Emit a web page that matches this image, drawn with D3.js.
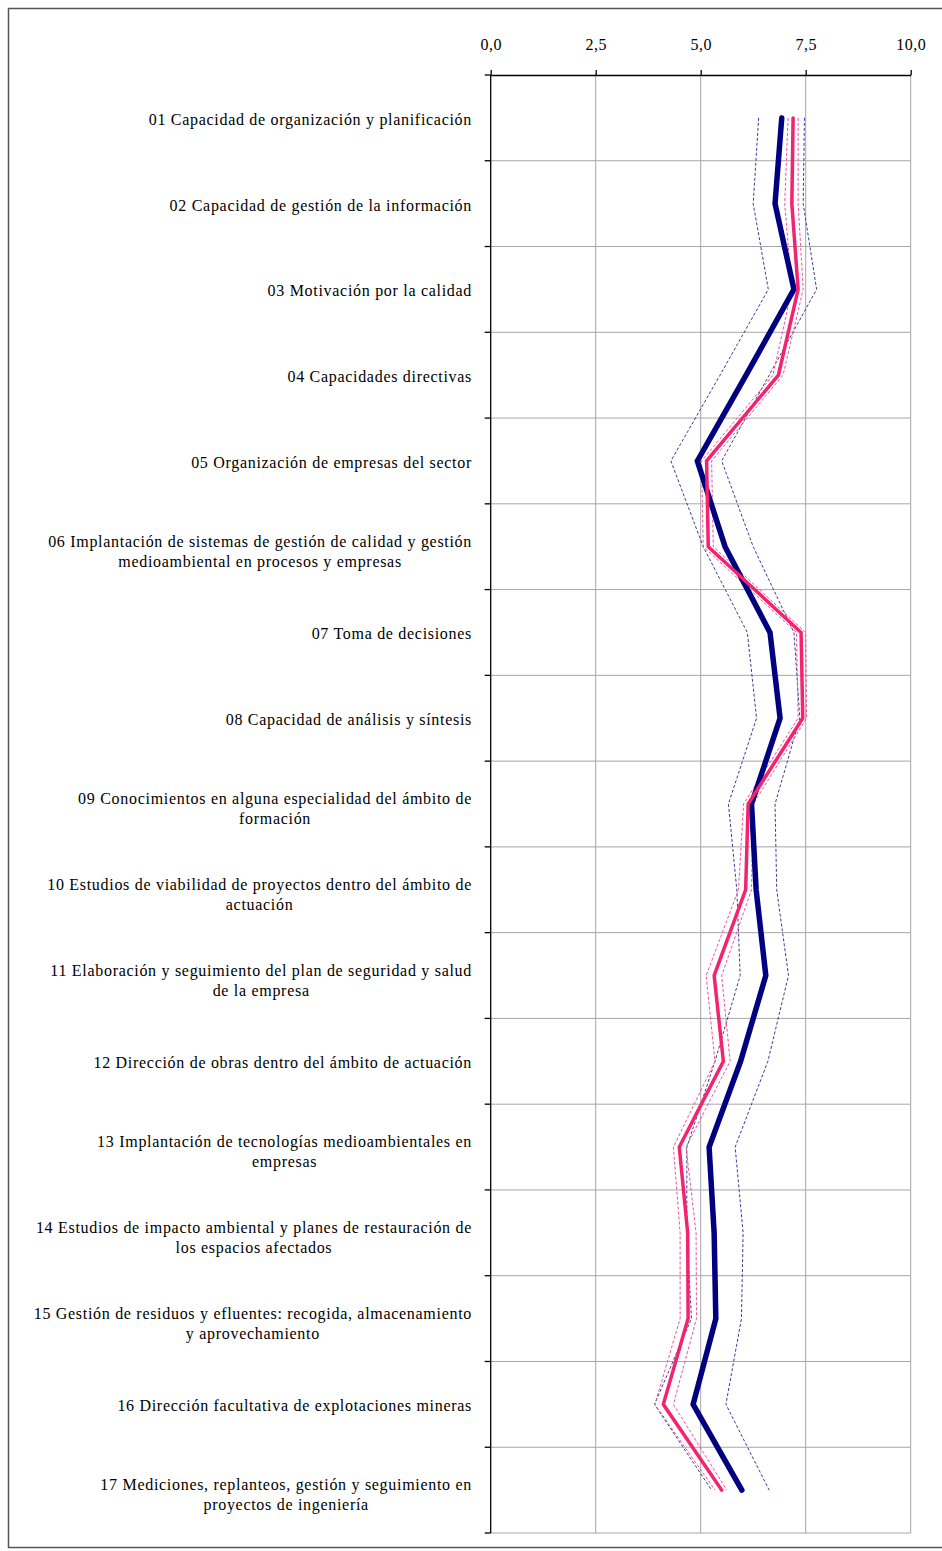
<!DOCTYPE html>
<html>
<head>
<meta charset="utf-8">
<script src="https://cdn.jsdelivr.net/npm/d3@7"></script>
<style>
  body { margin: 0; background: #fff; }
  svg text { font-family: "Liberation Serif", "DejaVu Serif", serif; fill: #000; }
</style>
</head>
<body>
<svg width="942" height="1551"></svg>
<script>
// categories (lines split where the picture wraps them)
const categories = [
    ["01 Capacidad de organización y planificación"],
    ["02 Capacidad de gestión de la información"],
    ["03 Motivación por la calidad"],
    ["04 Capacidades directivas"],
    ["05 Organización de empresas del sector"],
    ["06 Implantación de sistemas de gestión de calidad y gestión", "medioambiental en procesos y empresas"],
    ["07 Toma de decisiones"],
    ["08 Capacidad de análisis y síntesis"],
    ["09 Conocimientos en alguna especialidad del ámbito de", "formación"],
    ["10 Estudios de viabilidad de proyectos dentro del ámbito de", "actuación"],
    ["11 Elaboración y seguimiento del plan de seguridad y salud", "de la empresa"],
    ["12 Dirección de obras dentro del ámbito de actuación"],
    ["13 Implantación de tecnologías medioambientales en", "empresas"],
    ["14 Estudios de impacto ambiental y planes de restauración de", "los espacios afectados"],
    ["15 Gestión de residuos y efluentes: recogida, almacenamiento", "y aprovechamiento"],
    ["16 Dirección facultativa de explotaciones mineras"],
    ["17 Mediciones, replanteos, gestión y seguimiento en", "proyectos de ingeniería"]
];

const tickValues = [0, 2.5, 5, 7.5, 10];

// navy group: mean and its dashed bounds
const navyMean = [6.93, 6.77, 7.22, 6.08, 4.92, 5.58, 6.65, 6.89, 6.21, 6.32, 6.55, 5.95, 5.20, 5.32, 5.36, 4.82, 5.98];
const navyLow  = [6.38, 6.25, 6.61, 5.46, 4.29, 5.06, 6.11, 6.33, 5.66, 5.86, 5.94, 5.34, 4.67, 4.67, 4.78, 3.90, 5.26];
const navyHigh = [7.47, 7.44, 7.76, 6.63, 5.50, 6.25, 7.22, 7.36, 6.77, 6.81, 7.09, 6.60, 5.82, 6.01, 5.97, 5.60, 6.63];

// pink group: mean and its dashed bounds
const pinkMean = [7.20, 7.17, 7.32, 6.85, 5.14, 5.18, 7.39, 7.43, 6.13, 6.07, 5.32, 5.54, 4.49, 4.69, 4.70, 4.11, 5.50];
const pinkLow  = [7.08, 7.00, 7.17, 6.72, 5.02, 5.06, 7.28, 7.32, 6.02, 5.90, 5.13, 5.34, 4.35, 4.51, 4.51, 3.91, 5.34];
const pinkHigh = [7.32, 7.32, 7.44, 6.96, 5.26, 5.30, 7.50, 7.52, 6.25, 6.21, 5.50, 5.70, 4.65, 4.89, 4.90, 4.35, 5.62];

const NAVY = "#000080";
const NAVY_DASH = "#3a3a9a";
const PINK = "#f5226e";
const PINK_DASH = "#f0509a";

const svg = d3.select("svg");

// outer chart frame
svg.append("rect")
    .attr("x", 8.5).attr("y", 8.5)
    .attr("width", 940).attr("height", 1539)
    .attr("fill", "none")
    .attr("stroke", "#555")
    .attr("stroke-width", 1.5);

const plot = { left: 490.7, right: 910.7, top: 75, bottom: 1533 };

const x = d3.scaleLinear().domain([0, 10]).range([plot.left, plot.right]);
const y = d3.scaleBand()
    .domain(d3.range(categories.length))
    .range([plot.top, plot.bottom])
    .padding(0);
const yc = i => y(i) + y.bandwidth() / 2;

// grid
const grid = svg.append("g").attr("stroke", "#a6a6a6").attr("stroke-width", 1);
grid.selectAll("line.v")
    .data(tickValues.slice(1))
    .enter().append("line")
    .attr("x1", d => x(d)).attr("x2", d => x(d))
    .attr("y1", plot.top).attr("y2", plot.bottom);
grid.selectAll("line.h")
    .data(d3.range(1, categories.length + 1))
    .enter().append("line")
    .attr("x1", plot.left).attr("x2", plot.right)
    .attr("y1", i => (i < categories.length ? y(i) : plot.bottom))
    .attr("y2", i => (i < categories.length ? y(i) : plot.bottom));

// top value axis
const fmt = d => d3.format(".1f")(d).replace(".", ",");
const xAxis = svg.append("g")
    .attr("transform", `translate(0,${plot.top})`)
    .call(d3.axisTop(x).tickValues(tickValues).tickFormat(fmt).tickSize(5).tickSizeOuter(0).tickPadding(20));
xAxis.select(".domain").attr("stroke", "#000").attr("stroke-width", 1.3);
xAxis.selectAll(".tick line").attr("stroke", "#000").attr("stroke-width", 1.3);
xAxis.selectAll(".tick text")
    .style("font-family", '"Liberation Serif", serif')
    .style("font-size", "16px")
    .style("letter-spacing", "0.5px")
    .attr("fill", "#000");

// left category axis (ticks at band boundaries)
const leftAxis = svg.append("g");
leftAxis.append("line")
    .attr("x1", plot.left).attr("x2", plot.left)
    .attr("y1", plot.top).attr("y2", plot.bottom)
    .attr("stroke", "#000").attr("stroke-width", 1.3);
leftAxis.selectAll("line.t")
    .data(d3.range(0, categories.length + 1))
    .enter().append("line")
    .attr("x1", plot.left - 6).attr("x2", plot.left)
    .attr("y1", i => (i < categories.length ? y(i) : plot.bottom))
    .attr("y2", i => (i < categories.length ? y(i) : plot.bottom))
    .attr("stroke", "#000").attr("stroke-width", 1.3);

// category labels: wrapped lines centered, block right-aligned at the axis
const labelRight = 472;
const lineH = 20;
const labels = svg.append("g")
    .style("font-size", "16px")
    .style("letter-spacing", "0.7px");
categories.forEach((lines, i) => {
    const g = labels.append("g");
    const texts = lines.map((s, k) => g.append("text")
        .attr("text-anchor", "middle")
        .attr("y", yc(i) + 7 + (k - (lines.length - 1) / 2) * lineH + (lines.length > 1 ? 3 : 0))
        .text(s));
    const w = d3.max(texts, t => t.node().getComputedTextLength());
    texts.forEach(t => t.attr("x", labelRight - w / 2));
});

// series
const line = d3.line().x(d => x(d)).y((d, i) => yc(i));
const series = [
    { values: navyLow,  color: NAVY_DASH, width: 1, dash: "3,2" },
    { values: navyHigh, color: NAVY_DASH, width: 1, dash: "3,2" },
    { values: pinkLow,  color: PINK_DASH, width: 1, dash: "3,2" },
    { values: pinkHigh, color: PINK_DASH, width: 1, dash: "3,2" },
    { values: navyMean, color: NAVY, width: 5.5, dash: null },
    { values: pinkMean, color: PINK, width: 3.5, dash: null }
];
svg.append("g").selectAll("path")
    .data(series)
    .enter().append("path")
    .attr("d", d => line(d.values))
    .attr("fill", "none")
    .attr("stroke", d => d.color)
    .attr("stroke-width", d => d.width)
    .attr("stroke-dasharray", d => d.dash)
    .attr("stroke-linecap", d => (d.dash ? "butt" : "round"))
    .attr("stroke-linejoin", "miter");
</script>
</body>
</html>
